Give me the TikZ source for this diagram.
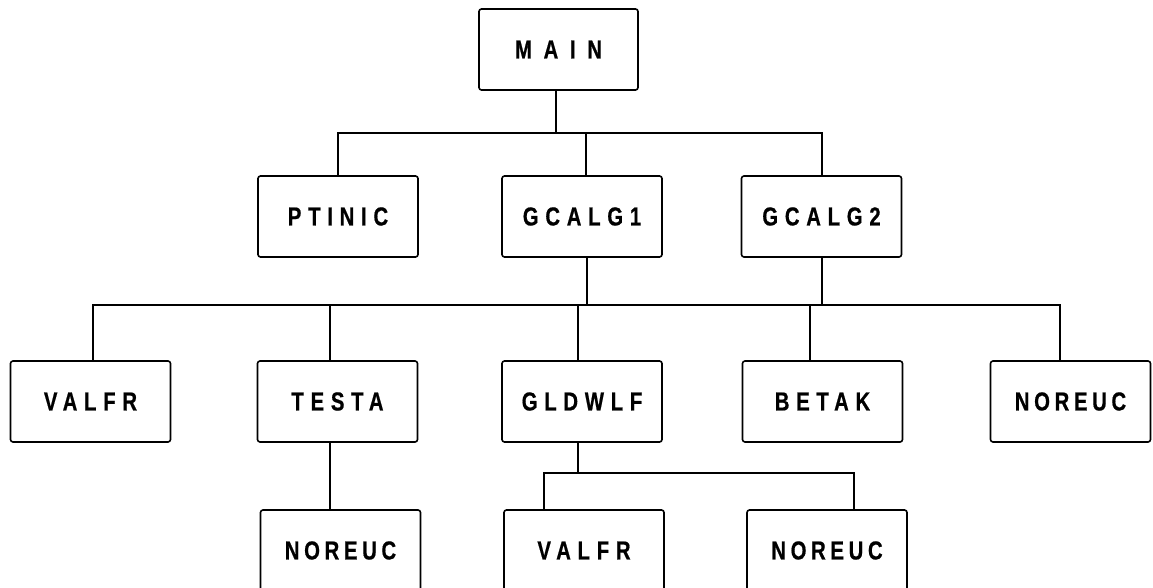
\documentclass[tikz,border=0pt]{standalone}
\usepackage{fontspec}
\newfontfamily\boxfont{Liberation Sans}[FakeStretch=0.78,LetterSpace=26,FakeBold=0.6]
\tikzset{
  modbox/.style={draw, line width=1.6pt, rounded corners=2.5pt, minimum width=160pt,
    minimum height=81pt, inner sep=0pt, font=\boxfont\bfseries\fontsize{26}{26}\selectfont},
  link/.style={line width=1.4pt}
}
\begin{document}
\begin{tikzpicture}[x=1pt,y=-1pt]
\useasboundingbox (0,0) rectangle (1153,588);
\node[modbox, minimum width=159pt] (main) at (558.5,49.5) {\addfontfeature{LetterSpace=45}MAIN};
\node[modbox] (ptinic) at (338,216.5) {PTINIC};
\node[modbox] (gcalg1) at (582,216.5) {GCALG1};
\node[modbox] (gcalg2) at (821.5,216.5) {GCALG2};
\node[modbox] (valfr) at (90.5,401.5) {VALFR};
\node[modbox] (testa) at (337.5,401.5) {TESTA};
\node[modbox] (gldwlf) at (582,401.5) {GLDWLF};
\node[modbox] (betak) at (822.5,401.5) {BETAK};
\node[modbox] (noreuca) at (1070.5,401.5) {\addfontfeature{LetterSpace=18}NOREUC};
\node[modbox] (noreucb) at (340.5,550.5) {\addfontfeature{LetterSpace=18}NOREUC};
\node[modbox] (valfrb) at (584,550.5) {VALFR};
\node[modbox] (noreucc) at (827,550.5) {\addfontfeature{LetterSpace=18}NOREUC};
\coordinate (bar1) at (0,133);
\coordinate (bar2) at (0,305);
\coordinate (bar3) at (0,473);
% level 1
\draw[link] ([xshift=-2.5pt]main.south) -- ([xshift=-2.5pt]main.south |- bar1);
\draw[link] (ptinic.north) -- (ptinic.north |- bar1) -- ([xshift=0.5pt]gcalg2.north |- bar1) -- ([xshift=0.5pt]gcalg2.north);
\draw[link] ([xshift=4pt]gcalg1.north) -- ([xshift=4pt]gcalg1.north |- bar1);
% level 2
\draw[link] ([xshift=5pt]gcalg1.south) -- ([xshift=5pt]gcalg1.south |- bar2);
\draw[link] ([xshift=0.5pt]gcalg2.south) -- ([xshift=0.5pt]gcalg2.south |- bar2);
\draw[link] ([xshift=2.5pt]valfr.north) -- ([xshift=2.5pt]valfr.north |- bar2) -- ([xshift=-10.5pt]noreuca.north |- bar2) -- ([xshift=-10.5pt]noreuca.north);
\draw[link] ([xshift=-7.5pt]testa.north) -- ([xshift=-7.5pt]testa.north |- bar2);
\draw[link] ([xshift=-4pt]gldwlf.north) -- ([xshift=-4pt]gldwlf.north |- bar2);
\draw[link] ([xshift=-12.5pt]betak.north) -- ([xshift=-12.5pt]betak.north |- bar2);
% level 3
\draw[link] ([xshift=-7.5pt]testa.south) -- ([xshift=-10.5pt]noreucb.north);
\draw[link] ([xshift=-4pt]gldwlf.south) -- ([xshift=-4pt]gldwlf.south |- bar3);
\draw[link] ([xshift=-40pt]valfrb.north) -- ([xshift=-40pt]valfrb.north |- bar3) -- ([xshift=27pt]noreucc.north |- bar3) -- ([xshift=27pt]noreucc.north);
\end{tikzpicture}
\end{document}
